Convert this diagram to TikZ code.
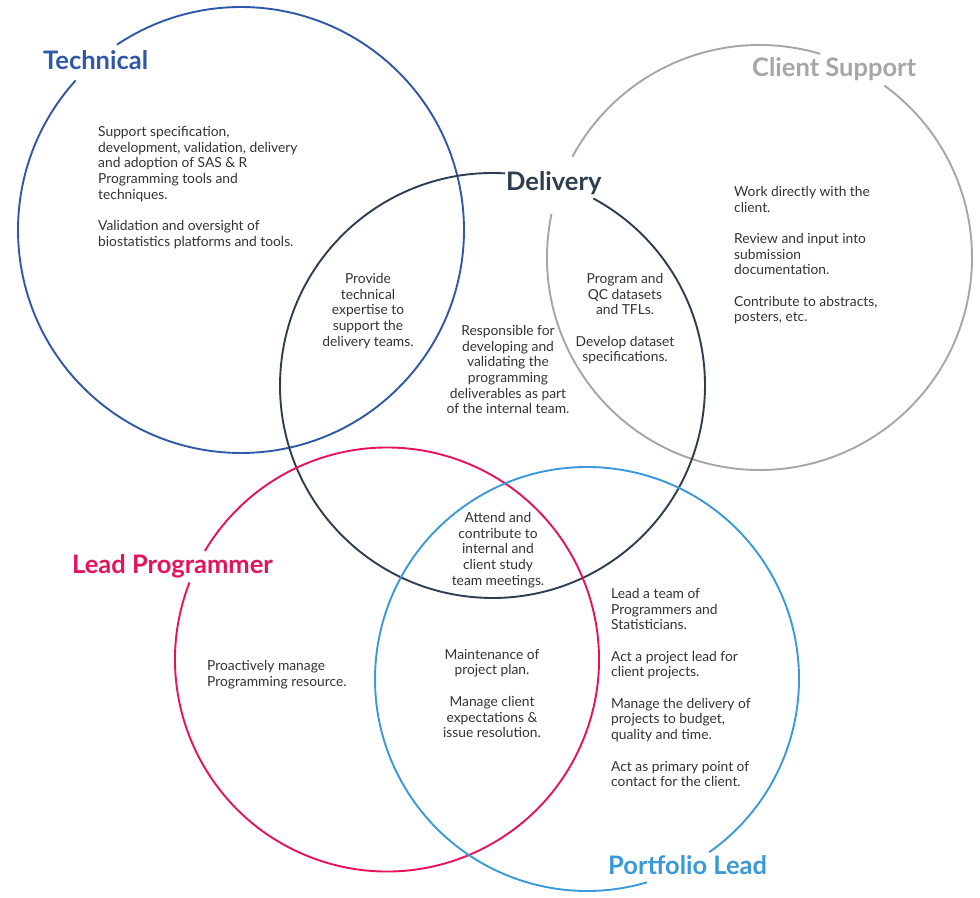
\documentclass[tikz,border=0pt]{standalone}
\usepackage{fontspec}
\setmainfont{Lato}
\definecolor{techblue}{HTML}{2F58A8}
\definecolor{clientgray}{HTML}{A6A6A6}
\definecolor{deldark}{HTML}{2C3E50}
\definecolor{leadred}{HTML}{E6135A}
\definecolor{portblue}{HTML}{3A9AD9}
\definecolor{bodytext}{HTML}{333333}
\tikzset{
  ring/.style={line width=1.9pt},
  title/.style={font=\fontsize{25.5}{30}\selectfont\bfseries, anchor=base west, inner sep=0pt},
  body/.style={font=\fontsize{13.8}{15.7}\selectfont, text=bodytext, inner sep=0pt},
}
\begin{document}
\begin{tikzpicture}[x=1pt,y=1pt]
\useasboundingbox (0,0) rectangle (980,897);
\fill[white] (0,0) rectangle (980,897);
\coordinate (tech) at (241,667);
\coordinate (client) at (759.5,639.5);
\coordinate (deliv) at (492.5,511.5);
\coordinate (lead) at (387,237.5);
\coordinate (port) at (587,218);
% circles with gaps
\draw[ring,techblue] (tech) ++(137.9:223) arc[start angle=137.9, end angle=483.8, radius=223];
\draw[ring,clientgray] (client) ++(73.4:212.5) arc[start angle=73.4, end angle=151.7, radius=212.5];
\draw[ring,clientgray] (client) ++(168.2:212.5) arc[start angle=168.2, end angle=414.0, radius=212.5];
\draw[ring,deldark] (deliv) ++(86.6:212.5) arc[start angle=86.6, end angle=421.7, radius=212.5];
\draw[ring,leadred] (lead) ++(158.7:212) arc[start angle=158.7, end angle=509.2, radius=212];
\draw[ring,portblue] (port) ++(-54.8:212) arc[start angle=-54.8, end angle=286.4, radius=212];
% titles
\node[title,text=techblue] (ttech) at (43,827) {Technical};
\node[title,text=clientgray] (tclient) at (752,820) {Client Support};
\node[title,text=deldark] (tdeliv) at (506,706) {Delivery};
\node[title,text=leadred] (tlead) at (72,323) {Lead Programmer};
\node[title,text=portblue] (tport) at (608,22) {Portfolio Lead};
% body texts
\node[body,anchor=north west,align=left] (btech) at (98,771) {Support specification,\\development, validation, delivery\\and adoption of SAS \& R\\Programming tools and\\techniques.\\[15.7pt]Validation and oversight of\\biostatistics platforms and tools.};
\node[body,anchor=north,align=center] (btd) at (368,624) {Provide\\technical\\expertise to\\support the\\delivery teams.};
\node[body,anchor=north,align=center] (bdel) at (508,572) {Responsible for\\developing and\\validating the\\programming\\deliverables as part\\of the internal team.};
\node[body,anchor=north,align=center] (bdc) at (625,624) {Program and\\QC datasets\\and TFLs.\\[15.7pt]Develop dataset\\specifications.};
\node[body,anchor=north west,align=left] (bclient) at (734,711) {Work directly with the\\client.\\[15.7pt]Review and input into\\submission\\documentation.\\[15.7pt]Contribute to abstracts,\\posters, etc.};
\node[body,anchor=north,align=center] (bdlp) at (498,385) {Attend and\\contribute to\\internal and\\client study\\team meetings.};
\node[body,anchor=north west,align=left] (blead) at (207,237) {Proactively manage\\Programming resource.};
\node[body,anchor=north,align=center] (blp) at (492,248) {Maintenance of\\project plan.\\[15.7pt]Manage client\\expectations \&\\issue resolution.};
\node[body,anchor=north west,align=left] (bport) at (611,309) {Lead a team of\\Programmers and\\Statisticians.\\[15.7pt]Act a project lead for\\client projects.\\[15.7pt]Manage the delivery of\\projects to budget,\\quality and time.\\[15.7pt]Act as primary point of\\contact for the client.};
\end{tikzpicture}
\end{document}
